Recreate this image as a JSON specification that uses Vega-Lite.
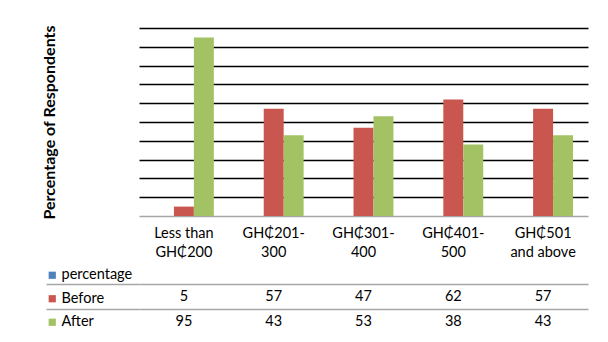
{
  "$schema": "https://vega.github.io/schema/vega-lite/v6.json",
  "padding": {"left": 41, "top": 24, "right": 10, "bottom": 5},
  "background": "white",
  "spacing": 0,
  "config": {"font": "Lato", "view": {"stroke": null}},
  "datasets": {
    "income": [
      {"income": "Less than GH₵200", "group": "Before", "pct": 5},
      {"income": "Less than GH₵200", "group": "After", "pct": 95},
      {"income": "GH₵201-300", "group": "Before", "pct": 57},
      {"income": "GH₵201-300", "group": "After", "pct": 43},
      {"income": "GH₵301-400", "group": "Before", "pct": 47},
      {"income": "GH₵301-400", "group": "After", "pct": 53},
      {"income": "GH₵401-500", "group": "Before", "pct": 62},
      {"income": "GH₵401-500", "group": "After", "pct": 38},
      {"income": "GH₵501 and above", "group": "Before", "pct": 57},
      {"income": "GH₵501 and above", "group": "After", "pct": 43}
    ]
  },
  "resolve": {"scale": {"x": "shared"}},
  "vconcat": [
    {
      "width": 449,
      "height": 188,
      "data": {"name": "income"},
      "mark": {"type": "bar"},
      "encoding": {
        "x": {
          "field": "income",
          "type": "nominal",
          "sort": ["Less than GH₵200", "GH₵201-300", "GH₵301-400", "GH₵401-500", "GH₵501 and above"],
          "scale": {"paddingInner": 0.3333, "paddingOuter": 0.1667},
          "axis": {
            "title": null,
            "domainColor": "#a6a6a6",
            "domainWidth": 1.5,
            "ticks": false,
            "labelAngle": 0,
            "labelFontSize": 14.5,
            "labelColor": "#000",
            "labelPadding": 10,
            "labelLineHeight": 19,
            "labelExpr": "datum.value == 'Less than GH₵200' ? ['Less than', 'GH₵200'] : datum.value == 'GH₵501 and above' ? ['GH₵501', 'and above'] : [slice(datum.value, 0, 7), slice(datum.value, 7)]"
          }
        },
        "xOffset": {
          "field": "group",
          "type": "nominal",
          "scale": {"domain": ["percentage", "Before", "After"]}
        },
        "y": {
          "field": "pct",
          "type": "quantitative",
          "scale": {"domain": [0, 100], "nice": false},
          "axis": {
            "title": "Percentage of Respondents",
            "titleFontSize": 16,
            "titleFontWeight": "bold",
            "titleColor": "#000",
            "titlePadding": 82,
            "labels": false,
            "ticks": false,
            "domain": false,
            "values": [10, 20, 30, 40, 50, 60, 70, 80, 90, 100],
            "grid": true,
            "gridColor": "#000",
            "gridWidth": 1.5
          }
        },
        "color": {
          "field": "group",
          "type": "nominal",
          "scale": {"domain": ["percentage", "Before", "After"], "range": ["#4F81BD", "#C9574F", "#A2C264"]},
          "legend": {
            "orient": "none",
            "legendX": -94,
            "legendY": 240,
            "title": null,
            "symbolType": "square",
            "symbolSize": 52,
            "symbolStrokeWidth": 0,
            "labelFontSize": 14.5,
            "labelColor": "#000",
            "labelOffset": 2,
            "rowPadding": 8.5
          }
        }
      }
    },
    {
      "width": 449,
      "height": 75,
      "data": {"name": "income"},
      "mark": {"type": "text", "fontSize": 14.5, "color": "#000"},
      "encoding": {
        "x": {
          "field": "income",
          "type": "nominal",
          "sort": ["Less than GH₵200", "GH₵201-300", "GH₵301-400", "GH₵401-500", "GH₵501 and above"],
          "axis": null
        },
        "y": {
          "field": "group",
          "type": "nominal",
          "scale": {"type": "band", "domain": ["percentage", "Before", "After"], "paddingInner": 0, "paddingOuter": 0},
          "axis": {
            "title": null,
            "labels": false,
            "domain": false,
            "ticks": true,
            "tickSize": 93,
            "tickColor": "#a6a6a6",
            "tickWidth": 1.5,
            "bandPosition": 0,
            "tickOpacity": {"condition": {"test": "datum.value === 'percentage'", "value": 0}, "value": 1},
            "grid": true,
            "gridColor": "#a6a6a6",
            "gridWidth": 1.5,
            "gridOpacity": {"condition": {"test": "datum.value === 'percentage'", "value": 0}, "value": 1}
          }
        },
        "text": {"field": "pct", "type": "quantitative"}
      }
    }
  ]
}
